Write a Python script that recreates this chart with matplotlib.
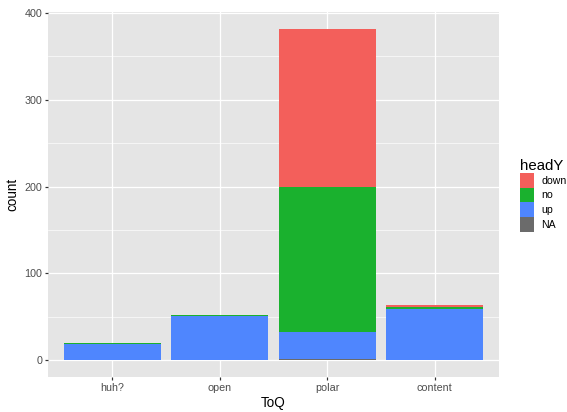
import matplotlib
matplotlib.use("Agg")
import matplotlib.pyplot as plt
import numpy as np

plt.rcParams['font.family'] = ['Liberation Sans', 'DejaVu Sans']

categories = ["huh?", "open", "polar", "content"]
# stacked counts per headY level (bottom to top: NA, up, no, down)
na_counts = [0, 0, 1, 0]
up_counts = [19, 51, 31, 59]
no_counts = [1, 1, 168, 2]
down_counts = [0, 0, 182, 2]

levels = ["down", "no", "up", "NA"]
colors = {"down": "#F35F5B", "no": "#1AB12E", "up": "#4F86FE", "NA": "#6B6B6B"}

W, H = 567, 412
fig = plt.figure(figsize=(W / 72, H / 72), dpi=72)
ax = fig.add_axes([48 / W, (H - 376.7) / H, 451 / W, (376.7 - 12) / H])
ax.set_facecolor("#E5E5E5")

series = {"NA": na_counts, "up": up_counts, "no": no_counts, "down": down_counts}
x = np.arange(len(categories))
bottom = np.zeros(len(categories))
handles = {}
for lev in ["NA", "up", "no", "down"]:
    vals = np.array(series[lev], dtype=float)
    handles[lev] = ax.bar(x, vals, 0.9, bottom=bottom, color=colors[lev],
                          linewidth=0, zorder=3)
    bottom += vals

ax.set_xlim(-0.6, 3.6)
ax.set_ylim(-19.1, 401.1)
ax.set_xticks(x)
ax.set_xticklabels(categories)
ax.set_yticks([0, 100, 200, 300, 400])
ax.set_yticks([50, 150, 250, 350], minor=True)

ax.grid(True, which="major", color="white", linewidth=1.3, zorder=0)
ax.grid(True, which="minor", axis="y", color="white", linewidth=0.65, zorder=0)
ax.set_axisbelow(True)
for s in ax.spines.values():
    s.set_visible(False)

ax.tick_params(which="major", length=3.4, width=1.2, color="#333333",
               labelsize=10.8, labelcolor="#4D4D4D", pad=2.5)
ax.tick_params(which="minor", length=0)

ax.set_xlabel("ToQ", fontsize=13.5, color="black", labelpad=3)
ax.set_ylabel("count", fontsize=13.5, color="black", labelpad=5)

# handle height in matplotlib = fs*(0.65*hh + 0.245)
leg = fig.legend([handles[l] for l in levels], levels,
                 loc="upper left", bbox_to_anchor=(520 / W, 1 - 159 / H),
                 frameon=False, title="headY", title_fontsize=15, fontsize=10.5,
                 handlelength=1.33, handleheight=1.78, handletextpad=0.7,
                 labelspacing=0.0, borderpad=0, borderaxespad=0, alignment="left")

fig.savefig("out.png", dpi=72)
